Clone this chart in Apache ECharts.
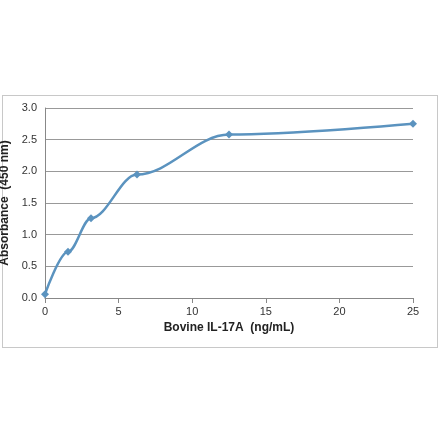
<!DOCTYPE html><html><head><meta charset="utf-8">
<script src="https://cdn.jsdelivr.net/npm/echarts@6/dist/echarts.min.js"></script>
<style>body{margin:0;background:#fff}#frame{position:absolute;left:2px;top:95px;width:434px;height:251px;border:1px solid #c8c8c8}#c{width:440px;height:441px}</style>
</head><body><div id="frame"></div><div id="c"></div><script>
const concentrations=[0,1.5625,3.125,6.25,12.5,25];
const absorbance=[0.06,0.73,1.26,1.95,2.58,2.75];
const xTicks=[0,5,10,15,20,25];
const yTicks=[0,0.5,1,1.5,2,2.5,3];
const chart=echarts.init(document.getElementById('c'));
chart.setOption({animation:false,
grid:{left:45,right:27,top:108,bottom:143,containLabel:false,outerBoundsMode:'none'},
xAxis:{type:'value',min:0,max:25,interval:5,name:'Bovine IL-17A  (ng/mL)',nameLocation:'middle',nameGap:24,
nameTextStyle:{fontFamily:'Liberation Sans',fontWeight:'bold',fontSize:12,color:'#222'},
axisLine:{lineStyle:{color:'#888'}},axisTick:{show:true,lineStyle:{color:'#888'}},splitLine:{show:false},
axisLabel:{fontFamily:'Liberation Sans',fontSize:11,color:'#333'}},
yAxis:{type:'value',min:0,max:3,interval:0.5,name:'Absorbance  (450 nm)',nameLocation:'middle',nameGap:30,
nameTextStyle:{fontFamily:'Liberation Sans',fontWeight:'bold',fontSize:12,color:'#222'},
axisLine:{show:true,lineStyle:{color:'#888'}},axisTick:{show:false},splitLine:{lineStyle:{color:'#999'}},
axisLabel:{fontFamily:'Liberation Sans',fontSize:11,color:'#333',formatter:v=>v.toFixed(1)}},
series:[{type:'line',smooth:0.35,smoothMonotone:'x',data:concentrations.map((x,i)=>[x,absorbance[i]]),symbol:'diamond',symbolSize:8,
lineStyle:{color:'#5b93bf',width:2.5},itemStyle:{color:'#5b93bf'}}]});
</script></body></html>
